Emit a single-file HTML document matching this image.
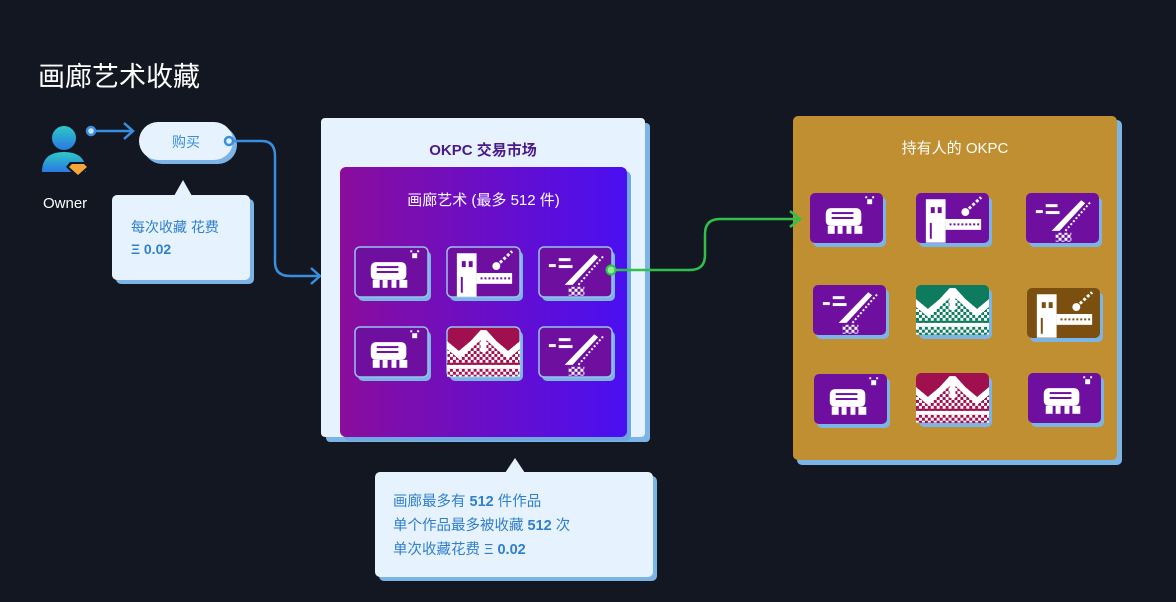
<!DOCTYPE html>
<html><head><meta charset="utf-8"><style>
html,body{margin:0;padding:0;background:#121722;}
body{width:1176px;height:602px;overflow:hidden;position:relative;font-family:"Liberation Sans","Noto Sans CJK SC",sans-serif;}
.t{position:absolute;white-space:nowrap;}
</style></head><body>
<svg width="1176" height="602" style="position:absolute;left:0;top:0">
<defs>
<linearGradient id="g1" x1="0" x2="1" y1="0" y2="0"><stop offset="0" stop-color="#8a0d9c"/><stop offset="1" stop-color="#4a0ff2"/></linearGradient>
<linearGradient id="person" x1="0" x2="0" y1="0" y2="1"><stop offset="0" stop-color="#2ec8c8"/><stop offset="1" stop-color="#2a78e0"/></linearGradient>
<pattern id="chk" width="6" height="6" patternUnits="userSpaceOnUse"><rect width="3" height="3" fill="#fff"/><rect x="3" y="3" width="3" height="3" fill="#fff"/></pattern>
<symbol id="crab" viewBox="0 0 74 50">
<rect x="16" y="15" width="36" height="18" rx="5" fill="#fff"/>
<rect x="22" y="19" width="22" height="2" fill="currentColor"/><rect x="22" y="24" width="22" height="2" fill="currentColor"/>
<rect x="18" y="33" width="7" height="8" fill="#fff"/><rect x="28" y="33" width="5" height="8" fill="#fff"/><rect x="37" y="33" width="5" height="8" fill="#fff"/><rect x="45" y="33" width="8" height="8" fill="#fff"/>
<rect x="58" y="6" width="5" height="5" fill="#fff"/><rect x="56" y="3" width="2" height="2" fill="#fff"/><rect x="63" y="3" width="2" height="2" fill="#fff"/>
</symbol>
<symbol id="dragon" viewBox="0 0 74 50">
<rect x="10" y="6" width="20" height="44" fill="#fff"/>
<rect x="15" y="14" width="4" height="6" fill="currentColor"/><rect x="22" y="14" width="4" height="6" fill="currentColor"/>
<rect x="30" y="26" width="36" height="11" fill="#fff"/>
<rect x="14" y="30" width="2" height="16" fill="currentColor"/>
<line x1="34" y1="31.5" x2="64" y2="31.5" stroke="currentColor" stroke-width="2" stroke-dasharray="2 2"/>
<circle cx="50" cy="19" r="4" fill="#fff"/><line x1="50" y1="19" x2="66" y2="4" stroke="#fff" stroke-width="3" stroke-dasharray="3 2"/>
</symbol>
<symbol id="sword" viewBox="0 0 74 50">
<rect x="10" y="17" width="7" height="3" fill="#fff"/><rect x="20" y="11" width="12" height="3" fill="#fff"/><rect x="20" y="18" width="14" height="3" fill="#fff"/>
<polygon points="26,38 34,38 60,10 56,7" fill="#fff"/>
<line x1="40" y1="38" x2="66" y2="8" stroke="#fff" stroke-width="2" stroke-dasharray="2 2"/>
<rect x="30" y="40" width="16" height="9" fill="url(#chk)"/>
</symbol>
<symbol id="sweater" viewBox="0 0 74 50">
<polygon points="0,14 12,24 24,14 34,3 40,3 50,14 62,24 74,14 74,50 0,50" fill="url(#chk)"/>
<polygon points="0,14 12,24 24,14 34,3 40,3 50,14 62,24 74,14 74,22 62,32 50,22 37,10 24,22 12,32 0,22" fill="#fff"/>
<rect x="34" y="3" width="6" height="22" fill="#fff"/>
<rect x="0" y="38" width="74" height="4" fill="#fff"/>
<rect x="0" y="36" width="74" height="2" fill="currentColor"/>
</symbol>
</defs>

<circle cx="64" cy="138" r="12" fill="url(#person)"/>
<path d="M42 172 Q42 152 64 152 Q86 152 86 172 Z" fill="url(#person)"/>
<polygon points="70,162 86,162 90,167 78,178 66,167" fill="#12161f"/>
<polygon points="72,164 84,164 87,167 78,175 69,167" fill="#f5a53a"/>
<line x1="91" y1="131" x2="132" y2="131" stroke="#3a8ee0" stroke-width="2.5"/>
<circle cx="91" cy="131" r="4" fill="#cfe4fb" stroke="#3a8ee0" stroke-width="2.5"/>
<polyline points="124,123 133,131 124,139" fill="none" stroke="#3a8ee0" stroke-width="2.5"/>
<rect x="143" y="126" width="94" height="38" rx="19" fill="#7db4e6"/>
<rect x="139" y="122" width="94" height="38" rx="19" fill="#e6f2fd"/>
<path d="M232 141 L262 141 Q275 141 275 156 L275 262 Q275 276 290 276 L319 276" fill="none" stroke="#3a8ee0" stroke-width="2.5"/>
<polyline points="311,268 320,276 311,284" fill="none" stroke="#3a8ee0" stroke-width="2.5"/>
<circle cx="229" cy="141" r="4" fill="#e6f2fd" stroke="#3a8ee0" stroke-width="2.5"/>
<rect x="116" y="199" width="138" height="85" rx="5" fill="#7db4e6"/>
<rect x="112" y="195" width="138" height="85" rx="5" fill="#e6f2fd"/>
<polygon points="174,196 183,180 192,196" fill="#e6f2fd"/>
<rect x="326" y="123" width="324" height="319" rx="4" fill="#7db4e6"/>
<rect x="321" y="118" width="324" height="319" rx="4" fill="#e6f2fd"/>
<rect x="344" y="171" width="287" height="270" rx="6" fill="#6fa8e0"/>
<rect x="340" y="167" width="287" height="270" rx="6" fill="url(#g1)"/>
<rect x="379" y="476" width="278" height="105" rx="5" fill="#7db4e6"/>
<rect x="375" y="472" width="278" height="105" rx="5" fill="#e6f2fd"/>
<polygon points="505,473 515,458 525,473" fill="#e6f2fd"/>
<rect x="797" y="120" width="325" height="345" rx="5" fill="#7db4e6"/>
<rect x="793" y="116" width="324" height="344" rx="5" fill="#c08f31"/>
<path d="M611 270 L690 270 Q705 270 705 255 L705 234 Q705 219 720 219 L799 219" fill="none" stroke="#2ec04a" stroke-width="2.5"/>
<polyline points="790,211 800,219 790,227" fill="none" stroke="#2ec04a" stroke-width="2.5"/>

<g>
<g transform="translate(355,247)"><rect x="3" y="4" width="73" height="50" rx="5" fill="#7db4e6"/><rect width="73" height="50" rx="5" fill="#6e0fa0" stroke="#9ac0f0" stroke-width="1.5"/><use href="#crab" width="73" height="50" style="color:#6e0fa0"/></g>
<g transform="translate(447,247)"><rect x="3" y="4" width="73" height="50" rx="5" fill="#7db4e6"/><rect width="73" height="50" rx="5" fill="#6e0fa0" stroke="#9ac0f0" stroke-width="1.5"/><use href="#dragon" width="73" height="50" style="color:#6e0fa0"/></g>
<g transform="translate(539,247)"><rect x="3" y="4" width="73" height="50" rx="5" fill="#7db4e6"/><rect width="73" height="50" rx="5" fill="#6e0fa0" stroke="#9ac0f0" stroke-width="1.5"/><use href="#sword" width="73" height="50" style="color:#6e0fa0"/></g>
<g transform="translate(355,327)"><rect x="3" y="4" width="73" height="50" rx="5" fill="#7db4e6"/><rect width="73" height="50" rx="5" fill="#6e0fa0" stroke="#9ac0f0" stroke-width="1.5"/><use href="#crab" width="73" height="50" style="color:#6e0fa0"/></g>
<g transform="translate(447,327)"><rect x="3" y="4" width="73" height="50" rx="5" fill="#7db4e6"/><rect width="73" height="50" rx="5" fill="#a0104e" stroke="#9ac0f0" stroke-width="1.5"/><use href="#sweater" width="73" height="50" style="color:#a0104e"/></g>
<g transform="translate(539,327)"><rect x="3" y="4" width="73" height="50" rx="5" fill="#7db4e6"/><rect width="73" height="50" rx="5" fill="#6e0fa0" stroke="#9ac0f0" stroke-width="1.5"/><use href="#sword" width="73" height="50" style="color:#6e0fa0"/></g>
<g transform="translate(810,193)"><rect x="3" y="4" width="73" height="50" rx="5" fill="#7db4e6"/><rect width="73" height="50" rx="5" fill="#6e0fa0"/><use href="#crab" width="73" height="50" style="color:#6e0fa0"/></g>
<g transform="translate(916,193)"><rect x="3" y="4" width="73" height="50" rx="5" fill="#7db4e6"/><rect width="73" height="50" rx="5" fill="#6e0fa0"/><use href="#dragon" width="73" height="50" style="color:#6e0fa0"/></g>
<g transform="translate(1026,193)"><rect x="3" y="4" width="73" height="50" rx="5" fill="#7db4e6"/><rect width="73" height="50" rx="5" fill="#6e0fa0"/><use href="#sword" width="73" height="50" style="color:#6e0fa0"/></g>
<g transform="translate(813,285)"><rect x="3" y="4" width="73" height="50" rx="5" fill="#7db4e6"/><rect width="73" height="50" rx="5" fill="#6e0fa0"/><use href="#sword" width="73" height="50" style="color:#6e0fa0"/></g>
<g transform="translate(916,285)"><rect x="3" y="4" width="73" height="50" rx="5" fill="#7db4e6"/><rect width="73" height="50" rx="5" fill="#0e7a5e"/><use href="#sweater" width="73" height="50" style="color:#0e7a5e"/></g>
<g transform="translate(1027,288)"><rect x="3" y="4" width="73" height="50" rx="5" fill="#7db4e6"/><rect width="73" height="50" rx="5" fill="#7a4f10"/><use href="#dragon" width="73" height="50" style="color:#7a4f10"/></g>
<g transform="translate(814,374)"><rect x="3" y="4" width="73" height="50" rx="5" fill="#7db4e6"/><rect width="73" height="50" rx="5" fill="#6e0fa0"/><use href="#crab" width="73" height="50" style="color:#6e0fa0"/></g>
<g transform="translate(916,373)"><rect x="3" y="4" width="73" height="50" rx="5" fill="#7db4e6"/><rect width="73" height="50" rx="5" fill="#a0104e"/><use href="#sweater" width="73" height="50" style="color:#a0104e"/></g>
<g transform="translate(1028,373)"><rect x="3" y="4" width="73" height="50" rx="5" fill="#7db4e6"/><rect width="73" height="50" rx="5" fill="#6e0fa0"/><use href="#crab" width="73" height="50" style="color:#6e0fa0"/></g>
</g>
<circle cx="611" cy="270" r="4.5" fill="#8ef08e" stroke="#2ec04a" stroke-width="2"/>
</svg>

<div class="t" style="left:38px;top:55px;font-size:27px;color:#fff;">画廊艺术收藏</div>
<div class="t" style="left:43px;top:195px;font-size:15px;color:#fff;">Owner</div>
<div class="t" style="left:172px;top:132px;font-size:14px;color:#3a8ee0;">购买</div>
<div class="t" style="left:131px;top:217px;font-size:14px;color:#2f7fcc;">每次收藏 花费</div>
<div class="t" style="left:131px;top:241px;font-size:14px;color:#2f7fcc;font-weight:bold;">Ξ 0.02</div>
<div class="t" style="left:321px;width:324px;text-align:center;top:139px;font-size:15px;color:#4a1a8a;font-weight:bold;">OKPC 交易市场</div>
<div class="t" style="left:340px;width:287px;text-align:center;top:189px;font-size:15px;color:#fff;">画廊艺术 (最多 512 件)</div>
<div class="t" style="left:793px;width:324px;text-align:center;top:137px;font-size:15px;color:#fff;">持有人的 OKPC</div>
<div class="t" style="left:393px;top:490px;font-size:14.5px;color:#2f7fcc;line-height:24px;">画廊最多有 <b>512</b> 件作品<br>单个作品最多被收藏 <b>512</b> 次<br>单次收藏花费 Ξ <b>0.02</b></div>
</body></html>
